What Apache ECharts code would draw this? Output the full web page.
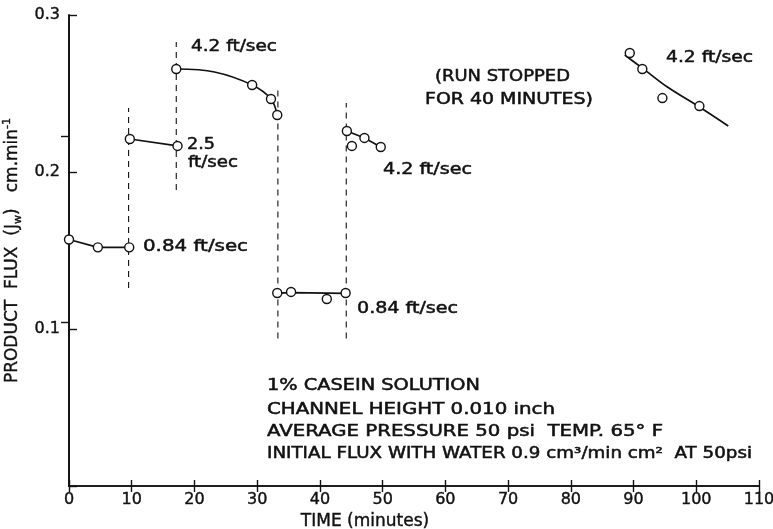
<!DOCTYPE html>
<html><head><meta charset="utf-8">
<script src="https://cdn.jsdelivr.net/npm/echarts@6/dist/echarts.min.js"></script>
<style>html,body{margin:0;padding:0;background:#fff}#c{width:773px;height:529px}</style>
</head><body><div id="c"></div>
<script>
// ---- data (time in minutes, flux in cm/min) ----
const xTickLabels = ['0','10','20','30','40','50','60','70','80','90','100','110'];
const yTickLabels = ['0.1','0.2','0.3'];
const run1Pts = [[0,0.157],[4.6,0.152],[9.6,0.152]];
const run2Pts = [[9.7,0.221],[17.3,0.2166]];
const run3Pts = [[17.1,0.2656],[29.2,0.2554],[32.2,0.2465],[33.2,0.2363]];
const run3Fit = [[17.1,0.2656],[23.2,0.2637],[29.2,0.2554],[32.2,0.2465],[33.2,0.2363]];
const run4Pts = [[33.2,0.1229],[35.4,0.1236],[41.1,0.1191],[44.1,0.1229]];
const run4Fit = [[33.2,0.1229],[35.4,0.1232],[44.1,0.1227]];
const run5Pts = [[44.3,0.2261],[45.1,0.2166],[47.1,0.2217],[49.7,0.2159]];
const run5Fit = [[44.3,0.2261],[47.1,0.2217],[49.7,0.2159]];
const run6Pts = [[89.4,0.2758],[91.4,0.2656],[94.6,0.2471],[100.5,0.2420]];
const run6Fit = [[88.6,0.2745],[91.4,0.2662],[95.4,0.2541],[100.5,0.2414],[105.1,0.2293]];
const dividerX = [9.5, 17.1, 33.3, 44.2];
const dividerTop = [0.2408, 0.2828, 0.2535, 0.2440];
const dividerBottom = [0.1261, 0.1885, 0.094, 0.094];
const rightTickValues = [0.104, 0.223];

// ---- text annotations ----
const FONT = '"DejaVu Sans", sans-serif';
const notes = [
  {t:'4.2 ft/sec', x:191, y:47, w:86, s:16},
  {t:'2.5', x:187, y:145, w:28, s:16},
  {t:'ft/sec', x:188, y:163, w:50, s:16},
  {t:'0.84 ft/sec', x:143, y:247, w:105, s:16},
  {t:'(RUN STOPPED', x:435, y:77, w:135, s:15},
  {t:'FOR 40 MINUTES)', x:425, y:100, w:168, s:15},
  {t:'4.2 ft/sec', x:383, y:170, w:89, s:16},
  {t:'0.84 ft/sec', x:357, y:309, w:101, s:16},
  {t:'4.2 ft/sec', x:666, y:58, w:87, s:16},
  {t:'1% CASEIN SOLUTION', x:267, y:386, w:213, s:15},
  {t:'CHANNEL HEIGHT 0.010 inch', x:267, y:410, w:288, s:15},
  {t:'AVERAGE PRESSURE 50 psi  TEMP. 65° F', x:267, y:432, w:396, s:15},
  {t:'INITIAL FLUX WITH WATER 0.9 cm³/min cm²  AT 50psi', x:267, y:454, w:485, s:15}
];
const ctx = document.createElement('canvas').getContext('2d');
function textW(t, s){ ctx.font = s + 'px ' + FONT; return ctx.measureText(t).width; }
const graphics = notes.map(n => ({
  type:'text', x:n.x, y:n.y, scaleX: n.w / textW(n.t, n.s), z:100,
  style:{text:n.t, font: n.s + 'px ' + FONT, fill:'#111', stroke:'#111', lineWidth:0.5, align:'left', verticalAlign:'middle'}
}));

const ptStyle = {color:'#fff', borderColor:'#111', borderWidth:1.4, opacity:1};
function pts(d){ return {type:'scatter', data:d, symbol:'circle', symbolSize:9, itemStyle:ptStyle, z:5, clip:false, silent:true}; }
function fit(d, smooth){ return {type:'line', data:d, showSymbol:false, symbol:'none', smooth: smooth ? 0.35 : false, lineStyle:{color:'#111', width:1.7}, z:3, silent:true}; }
const dividers = dividerX.map((x,i) => ({type:'line', data:[[x,dividerBottom[i]],[x,dividerTop[i]]], showSymbol:false, symbol:'none',
  lineStyle:{color:'#111', width:1.1, type:[6,5]}, z:2, silent:true}));

const axisLine = {show:true, lineStyle:{color:'#111', width:1.7}};
const labelStyle = {color:'#111', fontFamily:FONT, fontSize:16, textBorderColor:'#111', textBorderWidth:0.4};
const chart = echarts.init(document.getElementById('c'));
chart.setOption({
  backgroundColor:'#fff',
  animation:false,
  grid:{left:69, right:14, top:15, bottom:43, containLabel:false, outerBoundsMode:'none'},
  xAxis:[
    {type:'value', min:0, max:110, interval:10, position:'bottom', axisLine,
     axisTick:{inside:true, length:6, lineStyle:{color:'#111', width:1.4}},
     axisLabel:{...labelStyle, margin:6, formatter:(v)=>xTickLabels[Math.round(v/10)]},
     splitLine:{show:false},
     name:'TIME (minutes)', nameLocation:'middle', nameGap:23,
     nameTextStyle:{color:'#111', fontFamily:FONT, fontSize:17, textBorderColor:'#111', textBorderWidth:0.4, padding:[0,98,0,0]}},
    {type:'value', min:0, max:110, interval:10, position:'top', axisLine,
     axisTick:{inside:true, length:6, lineStyle:{color:'#111', width:1.4}},
     axisLabel:{show:false}, splitLine:{show:false}}
  ],
  yAxis:[
    {type:'value', min:0, max:0.3, interval:0.1, position:'left', axisLine,
     axisTick:{inside:true, length:8, lineStyle:{color:'#111', width:1.4}},
     axisLabel:{...labelStyle, margin:9,
       formatter:(v)=>{const i=Math.round(v*10); return i>0 ? yTickLabels[i-1] : '';}},
     splitLine:{show:false},
     name:'PRODUCT  FLUX  (J{s|w})   cm.min{p|-1}', nameLocation:'middle', nameRotate:90, nameGap:37,
     nameTextStyle:{color:'#111', fontFamily:FONT, fontSize:17, lineHeight:22, textBorderColor:'#111', textBorderWidth:0.4,
       rich:{s:{fontSize:11, fontFamily:FONT, color:'#111', verticalAlign:'bottom'},
             p:{fontSize:11, fontFamily:FONT, color:'#111', verticalAlign:'top'}}}},
    {type:'value', min:0, max:0.3, position:'right', axisLine,
     axisTick:{inside:true, length:8, customValues:rightTickValues, lineStyle:{color:'#111', width:1.4}},
     axisLabel:{show:false}, splitLine:{show:false}}
  ],
  series:[
    ...dividers,
    fit(run1Pts,false), fit(run2Pts,false), fit(run3Fit,true), fit(run4Fit,false), fit(run5Fit,false), fit(run6Fit,true),
    pts(run1Pts), pts(run2Pts), pts(run3Pts), pts(run4Pts), pts(run5Pts), pts(run6Pts)
  ],
  graphic: graphics
});
</script></body></html>
